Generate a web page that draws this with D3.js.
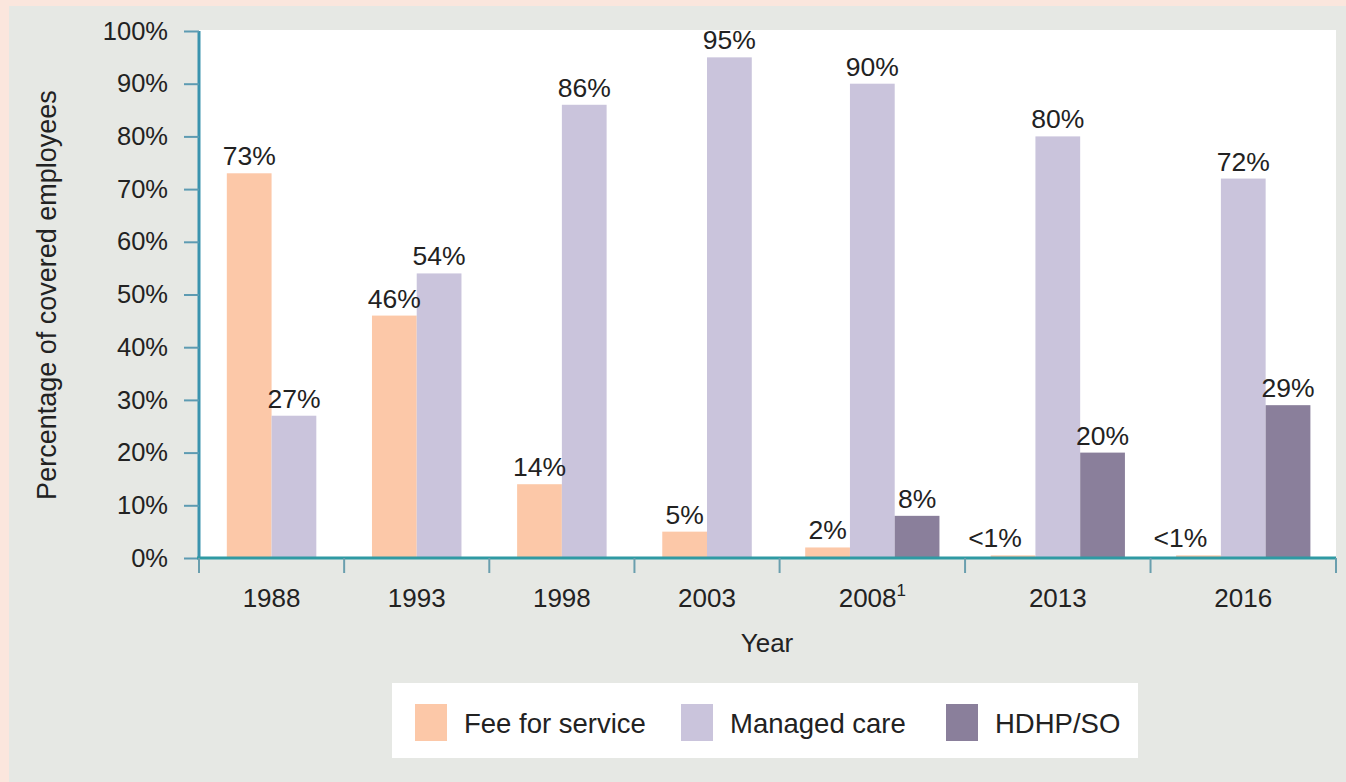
<!DOCTYPE html>
<html>
<head>
<meta charset="utf-8">
<script src="https://cdn.jsdelivr.net/npm/d3@7"></script>
<style>
  body { margin: 0; background: #fbe6dd; }
  svg { display: block; font-family: "Liberation Sans", Arial, sans-serif; }
</style>
</head>
<body>
<svg width="1346" height="782"></svg>
<script>
//data
const years = ['1988', '1993', '1998', '2003', '2008', '2013', '2016'];
const footnotes = ['', '', '', '', '1', '', ''];
const feeForService = [73, 46, 14, 5, 2, 0.5, 0.5];
const managedCare = [27, 54, 86, 95, 90, 80, 72];
const hdhp = [null, null, null, null, 8, 20, 29];
const valueLabels = [
  ['73%', '46%', '14%', '5%', '2%', '<1%', '<1%'],
  ['27%', '54%', '86%', '95%', '90%', '80%', '72%'],
  ['', '', '', '', '8%', '20%', '29%']
];
const seriesNames = ['Fee for service', 'Managed care', 'HDHP/SO'];
const seriesColors = ['#fcc8a8', '#cac4dc', '#8a7f9b'];
const yTicks = [0, 10, 20, 30, 40, 50, 60, 70, 80, 90, 100];

//set up
const svg = d3.select('svg');
const plotL = 199, plotR = 1336, plotT = 31, plotB = 558;

svg.append('rect').attr('x', 9).attr('y', 6).attr('width', 1337).attr('height', 776).attr('fill', '#e6e8e4');
svg.append('rect').attr('x', plotL).attr('y', plotT - 1).attr('width', plotR - plotL).attr('height', plotB - plotT + 1).attr('fill', '#fff');

const series = [feeForService, managedCare, hdhp];

// groups: bar slots per year, plus padding
const groups = years.map((yr, i) => {
  const vals = series.map((s, k) => ({ k, v: s[i], label: valueLabels[k][i] })).filter(d => d.v !== null);
  return { year: yr, foot: footnotes[i], vals };
});
const pad = 1.6, barW = 1.11;
let acc = 0;
groups.forEach(g => { g.start = acc; acc += g.vals.length + pad; g.end = acc; });

const x = d3.scaleLinear().domain([0, acc]).range([plotL, plotR]);
const y = d3.scaleLinear().domain([0, 100]).range([plotB, plotT]);

const barsOf = g => {
  const mid = (g.start + g.end) / 2;
  const first = mid - g.vals.length * barW / 2;
  return g.vals.map((d, j) => ({ ...d, x0: first + j * barW }));
};

//bars
const gGroups = svg.selectAll('g.grp')
  .data(groups)
  .join('g')
  .attr('class', 'grp');

gGroups.selectAll('rect')
  .data(barsOf)
  .join('rect')
  .attr('x', d => x(d.x0))
  .attr('width', d => x(d.x0 + barW) - x(d.x0))
  .attr('y', d => y(d.v))
  .attr('height', d => y(0) - y(d.v))
  .attr('fill', d => seriesColors[d.k]);

gGroups.selectAll('text')
  .data(barsOf)
  .join('text')
  .attr('x', d => x(d.x0 + barW / 2) + (d.label.startsWith('<') ? -18 : 0))
  .attr('y', d => y(d.v) - 8)
  .attr('text-anchor', 'middle')
  .attr('font-size', 26.5)
  .attr('fill', '#222')
  .text(d => d.label);

//y axis
const yAxis = svg.append('g')
  .attr('transform', `translate(${plotL},0)`)
  .call(d3.axisLeft(y).tickValues(yTicks).tickFormat(d => d + '%').tickSize(15).tickPadding(16));
yAxis.select('.domain').attr('stroke', '#3a93ae').attr('stroke-width', 3).attr('d', `M0,${plotT}V${plotB}`);
yAxis.selectAll('.tick line').attr('stroke', '#5d9bb2').attr('stroke-width', 2);
yAxis.selectAll('.tick text').attr('font-size', 25.5).attr('fill', '#222').attr('font-family', 'Liberation Sans, Arial, sans-serif');

//x axis
svg.append('line')
  .attr('x1', plotL - 2).attr('x2', plotR)
  .attr('y1', plotB).attr('y2', plotB)
  .attr('stroke', '#2f9aa3').attr('stroke-width', 3);

svg.selectAll('line.cat')
  .data([0].concat(groups.map(g => g.end)))
  .join('line')
  .attr('class', 'cat')
  .attr('x1', d => x(d)).attr('x2', d => x(d))
  .attr('y1', plotB).attr('y2', plotB + 15)
  .attr('stroke', '#6a9fae').attr('stroke-width', 2);

const yearText = svg.selectAll('text.year')
  .data(groups)
  .join('text')
  .attr('class', 'year')
  .attr('x', g => x((g.start + g.end) / 2))
  .attr('y', 607)
  .attr('text-anchor', 'middle')
  .attr('font-size', 26)
  .attr('fill', '#222');
yearText.append('tspan').text(g => g.year);
yearText.append('tspan').attr('font-size', 17).attr('dy', -11).text(g => g.foot);

svg.append('text')
  .attr('x', 767).attr('y', 652)
  .attr('text-anchor', 'middle')
  .attr('font-size', 26)
  .attr('fill', '#222')
  .text('Year');

svg.append('text')
  .attr('transform', 'translate(56,295) rotate(-90)')
  .attr('text-anchor', 'middle')
  .attr('font-size', 27)
  .attr('fill', '#222')
  .text('Percentage of covered employees');

//legend
const legend = svg.append('g').attr('transform', 'translate(392,683)');
legend.append('rect').attr('width', 746).attr('height', 75).attr('fill', '#fff');
const legendX = [23, 289, 554];
const item = legend.selectAll('g.item')
  .data(seriesNames)
  .join('g')
  .attr('class', 'item')
  .attr('transform', (d, i) => `translate(${legendX[i]},21)`);
item.append('rect').attr('width', 32).attr('height', 37).attr('fill', (d, i) => seriesColors[i]);
item.append('text')
  .attr('x', 49).attr('y', 29)
  .attr('font-size', 27.5)
  .attr('fill', '#222')
  .text(d => d);
</script>
</body>
</html>
